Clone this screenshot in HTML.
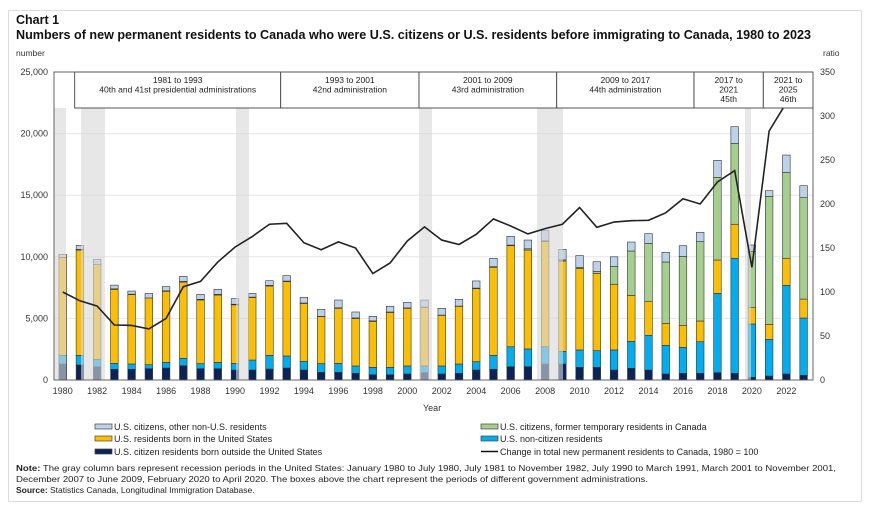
<!DOCTYPE html>
<html><head><meta charset="utf-8"><style>
body{margin:0;background:#fff;}
svg text{font-family:"Liberation Sans",sans-serif;}
</style></head><body>
<svg id="c" width="871" height="506" xmlns="http://www.w3.org/2000/svg">
<rect x="8.5" y="10.5" width="853" height="491" fill="#fff" stroke="#ddd"/>
<text x="16" y="24" font-size="12.5" font-weight="bold" fill="#111">Chart 1</text>
<text x="16" y="39" font-size="12.5" font-weight="bold" fill="#111" textLength="795" lengthAdjust="spacingAndGlyphs">Numbers of new permanent residents to Canada who were U.S. citizens or U.S. residents before immigrating to Canada, 1980 to 2023</text>
<text x="16" y="56" font-size="8.5" fill="#333">number</text>
<text x="823" y="56" font-size="8.5" fill="#333">ratio</text>
<g id="g"></g>
<text x="423" y="411" font-size="9" fill="#333">Year</text>
<g font-size="9" fill="#222">
<rect x="95" y="424" width="17" height="5" fill="#bcd2ea" stroke="#444" stroke-width="0.7"/><text x="114" y="430">U.S. citizens, other non-U.S. residents</text>
<rect x="95" y="436" width="17" height="5" fill="#fcbf00" stroke="#444" stroke-width="0.7"/><text x="114" y="442">U.S. residents born in the United States</text>
<rect x="95" y="449" width="17" height="5" fill="#0a2358" stroke="#444" stroke-width="0.7"/><text x="114" y="455">U.S. citizen residents born outside the United States</text>
<rect x="481" y="424" width="17" height="5" fill="#a5cf8c" stroke="#444" stroke-width="0.7"/><text x="500" y="430">U.S. citizens, former temporary residents in Canada</text>
<rect x="481" y="436" width="17" height="5" fill="#00aeef" stroke="#444" stroke-width="0.7"/><text x="500" y="442">U.S. non-citizen residents</text>
<line x1="481" y1="451.5" x2="498" y2="451.5" stroke="#111" stroke-width="1.5"/><text x="500" y="455">Change in total new permanent residents to Canada, 1980 = 100</text>
</g>
<g font-size="8.5" fill="#222">
<text x="16" y="471" textLength="820" lengthAdjust="spacingAndGlyphs"><tspan font-weight="bold">Note:</tspan> The gray column bars represent recession periods in the United States: January 1980 to July 1980, July 1981 to November 1982, July 1990 to March 1991, March 2001 to November 2001,</text>
<text x="16" y="482" textLength="632" lengthAdjust="spacingAndGlyphs">December 2007 to June 2009, February 2020 to April 2020. The boxes above the chart represent the periods of different government administrations.</text>
<text x="16" y="493"><tspan font-weight="bold">Source:</tspan> Statistics Canada, Longitudinal Immigration Database.</text>
</g>
</svg>
<script>
const g=document.getElementById('g');let s='';
const L=54,R=813,T=72,B=380;
const Y=v=>B-v*(B-T)/25000, YR=v=>B-v*(B-T)/350, X=i=>62.7+i*17.23;
// grid
for(let v=0;v<=25000;v+=5000){const y=Y(v);if(v>0)s+=`<line x1="${L}" x2="${R}" y1="${y}" y2="${y}" stroke="#e6e6e6"/>`;
s+=`<text x="${L-6}" y="${y+3}" font-size="9" fill="#333" text-anchor="end">${v.toLocaleString('en-US')}</text>`;}
for(let v=0;v<=350;v+=50){s+=`<text x="${R+7}" y="${YR(v)+3}" font-size="9" fill="#333">${v}</text>`;}
// data cum: dark, blue, yellow, green, total (thousands)
const d=[[1.3,2.0,9.96,9.96,10.2],[1.22,2.0,10.55,10.6,10.93],[1.08,1.68,9.36,9.36,9.8],[.87,1.35,7.36,7.4,7.7],[.87,1.3,6.93,6.97,7.22],[.92,1.24,6.66,6.66,7.03],[.97,1.43,7.2,7.24,7.58],[1.16,1.76,7.95,8.0,8.41],[.92,1.33,6.5,6.55,6.95],[.92,1.43,6.9,6.95,7.36],[.81,1.35,6.1,6.15,6.6],[.81,1.62,6.7,6.73,7.03],[.89,2.0,7.63,7.68,8.06],[.97,1.95,7.98,8.03,8.47],[.81,1.52,6.22,6.25,6.71],[.62,1.33,5.14,5.16,5.74],[.62,1.35,5.82,5.86,6.49],[.54,1.14,5.0,5.04,5.52],[.43,1.03,4.76,4.8,5.17],[.43,1.03,5.49,5.52,5.98],[.49,1.14,5.82,5.85,6.3],[.6,1.14,5.9,5.92,6.49],[.49,1.14,5.25,5.27,5.82],[.54,1.3,5.98,6.0,6.55],[.81,1.49,7.41,7.46,8.04],[.87,2.0,9.15,9.2,9.88],[1.08,2.7,10.9,10.95,11.66],[1.08,2.52,10.55,10.65,11.36],[1.3,2.7,11.23,11.3,12.12],[1.3,2.33,9.66,9.75,10.6],[1.03,2.44,9.06,9.15,10.1],[1.03,2.38,8.66,8.82,9.6],[.81,2.44,7.77,9.23,10.0],[.95,3.14,6.87,10.47,11.2],[.81,3.63,6.39,11.09,11.88],[.49,2.81,4.6,9.58,10.36],[.54,2.65,4.44,10.04,10.9],[.54,3.11,4.79,11.23,11.99],[.6,7.03,9.74,16.45,17.83],[.54,9.88,12.64,19.21,20.56],[.22,4.55,5.87,10.42,10.96],[.32,3.3,4.52,14.91,15.37],[.49,7.68,9.88,16.86,18.26],[.38,5.03,6.57,14.8,15.77]];
const col=['#0a2358','#00aeef','#fcbf00','#a5cf8c','#bcd2ea'];
d.forEach((r,i)=>{let p=0;const x=X(i)-3.8;r.forEach((c,k)=>{if(c-p>0.001){const y1=Y(c*1000),y0=Y(p*1000);s+=`<rect x="${x}" y="${y1}" width="7.6" height="${y0-y1}" fill="${col[k]}" stroke="#333" stroke-width="0.6"/>`;}p=c;});});
// recession shading
[[54,66],[81,105],[236,249],[419,432],[537,563],[745,751]].forEach(a=>{s+=`<rect x="${a[0]}" y="108" width="${a[1]-a[0]}" height="${B-108}" fill="#d9d9d9" opacity="0.62"/>`;});
// line
const r=[100,90,84,62.5,62,58,70,106,112,134,151,163,177,178,156,148,157,150,121,133,158,174,159,154,165.5,183,175,166,172,177,196,173.5,179.5,181,181.5,190,206,200,225,238,128,283,315,345];
s+=`<polyline fill="none" stroke="#222" stroke-width="1.6" points="${r.map((v,i)=>X(i)+','+YR(v)).join(' ')}"/>`;
// admin boxes
s+=`<rect x="${L}" y="72" width="20.7" height="36" fill="#fff"/>`;
const bx=[[74.7,280.7,['1981 to 1993','40th and 41st presidential administrations']],[280.7,419,['1993 to 2001','42nd administration']],[419,556.7,['2001 to 2009','43rd administration']],[556.7,694,['2009 to 2017','44th administration']],[694,763.3,['2017 to','2021','45th']],[763.3,813,['2021 to','2025','46th']]];
bx.forEach(b=>{s+=`<rect x="${b[0]}" y="72" width="${b[1]-b[0]}" height="36" fill="#fff" stroke="#444" stroke-width="0.9"/>`;
b[2].forEach((t,j)=>{s+=`<text x="${(b[0]+b[1])/2}" y="${83+j*9.5}" font-size="8.5" fill="#222" text-anchor="middle">${t}</text>`;});});
// axes frame
s+=`<rect x="${L}" y="${T}" width="${R-L}" height="${B-T}" fill="none" stroke="#555" stroke-width="0.9"/>`;
for(let i=0;i<44;i+=2)s+=`<text x="${X(i)}" y="394" font-size="9" fill="#333" text-anchor="middle">${1980+i}</text>`;
g.innerHTML=s;
</script>
</body></html>
